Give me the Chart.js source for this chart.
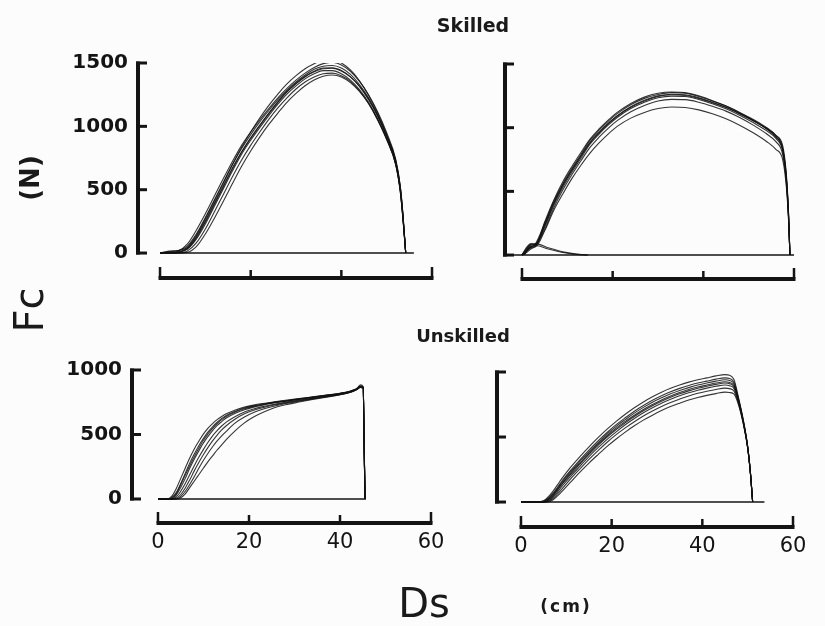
<!DOCTYPE html>
<html>
<head>
<meta charset="utf-8">
<script src="https://cdn.jsdelivr.net/npm/chart.js@4.4.1/dist/chart.umd.min.js"></script>
<style>
  html, body { margin: 0; padding: 0; background: #fcfcfc; }
  #page { position: relative; width: 825px; height: 626px; overflow: hidden; font-family: "DejaVu Sans", sans-serif; color: #1a1a1a; }
  #page canvas { position: absolute; left: 0; top: 0; }
  .lbl { position: absolute; transform: translate(-50%, -50%); white-space: nowrap; }
  .rot { transform: translate(-50%, -50%) rotate(-90deg); }
</style>
</head>
<body>
<div id="page">
  <canvas id="skilledA" width="825" height="626"></canvas>
  <canvas id="skilledB" width="825" height="626"></canvas>
  <canvas id="unskilledA" width="825" height="626"></canvas>
  <canvas id="unskilledB" width="825" height="626"></canvas>
  <div class="lbl" style="left:473px; top:25px; font-weight:bold; font-size:19px;">Skilled</div>
  <div class="lbl" style="left:463px; top:335px; font-weight:bold; font-size:18px;">Unskilled</div>
  <div class="lbl rot" style="left:30px; top:178px; font-weight:bold; font-size:26px;">(N)</div>
  <div class="lbl rot" style="left:29px; top:310px; font-size:40px;">Fc</div>
  <div class="lbl" style="left:424px; top:603px; font-size:40px;">Ds</div>
  <div class="lbl" style="left:566px; top:606px; font-weight:bold; font-size:17px; letter-spacing:2px;">(cm)</div>
</div>
<script>
// tick values
const xTicks = [0, 20, 40, 60];
const skilledYTicks = [0, 500, 1000, 1500];
const unskilledYTicks = [0, 500, 1000];

// skilled, left panel: distance (cm) and force (N) per trial
const tlDist = [0, 2, 4, 6, 8, 10, 12, 14, 16, 18, 20, 22, 24, 26, 28, 30, 32, 34, 36, 38, 40, 42, 44, 46, 48, 50, 52, 53, 53.6, 54.2];
const tlForce = [
  [0, 5, 15, 70, 180, 310, 450, 590, 725, 850, 955, 1050, 1140, 1225, 1300, 1365, 1420, 1465, 1495, 1505, 1485, 1435, 1355, 1250, 1115, 950, 740, 530, 300, 0],
  [0, 10, 20, 55, 150, 280, 420, 560, 700, 825, 935, 1035, 1125, 1210, 1285, 1350, 1405, 1450, 1475, 1480, 1460, 1410, 1330, 1225, 1090, 925, 720, 510, 285, 0],
  [0, 0, 5, 40, 130, 255, 395, 535, 675, 800, 910, 1010, 1105, 1195, 1275, 1340, 1395, 1435, 1460, 1462, 1440, 1390, 1315, 1210, 1080, 915, 710, 500, 280, 0],
  [0, 0, 5, 30, 110, 230, 370, 510, 650, 780, 890, 990, 1085, 1175, 1255, 1320, 1375, 1415, 1440, 1440, 1415, 1365, 1290, 1190, 1060, 900, 700, 490, 270, 0],
  [0, 0, 0, 15, 80, 190, 325, 465, 605, 735, 850, 955, 1055, 1145, 1225, 1295, 1350, 1390, 1415, 1420, 1400, 1355, 1280, 1180, 1050, 895, 695, 485, 265, 0],
  [0, 0, 0, 5, 50, 150, 275, 410, 550, 685, 805, 915, 1015, 1105, 1190, 1260, 1320, 1365, 1395, 1405, 1390, 1345, 1275, 1180, 1055, 900, 700, 490, 270, 0],
  [0, 15, 20, 45, 140, 270, 410, 555, 700, 835, 955, 1065, 1165, 1255, 1335, 1400, 1455, 1495, 1520, 1525, 1500, 1445, 1360, 1245, 1105, 935, 725, 520, 295, 0],
  [0, 5, 10, 35, 120, 245, 385, 525, 665, 795, 905, 1005, 1100, 1190, 1270, 1335, 1390, 1430, 1455, 1458, 1437, 1390, 1318, 1218, 1090, 930, 730, 520, 295, 0]
];
const tlBase = [0, 56];

// skilled, right panel
const trDist = [0, 1, 2, 3, 5, 7, 9, 11, 13, 15, 17, 19, 21, 24, 27, 30, 33, 36, 39, 42, 45, 48, 51, 54, 56, 57.5, 58.3, 58.8, 59.1];
const trForce = [
  [0, 30, 60, 90, 250, 420, 560, 680, 790, 900, 980, 1050, 1110, 1180, 1230, 1260, 1275, 1270, 1245, 1210, 1170, 1120, 1065, 1000, 940, 840, 620, 320, 0],
  [0, 50, 80, 85, 240, 410, 550, 670, 780, 885, 965, 1035, 1095, 1165, 1215, 1250, 1262, 1258, 1235, 1200, 1160, 1110, 1055, 990, 930, 830, 610, 310, 0],
  [0, 40, 70, 75, 220, 390, 530, 650, 760, 870, 950, 1020, 1080, 1150, 1200, 1235, 1248, 1245, 1222, 1188, 1148, 1098, 1040, 975, 915, 815, 590, 300, 0],
  [0, 20, 50, 70, 200, 370, 510, 630, 740, 845, 925, 995, 1055, 1125, 1175, 1210, 1222, 1220, 1200, 1168, 1130, 1080, 1020, 950, 890, 790, 570, 290, 0],
  [0, 30, 60, 65, 190, 350, 480, 600, 705, 800, 880, 950, 1010, 1075, 1120, 1150, 1162, 1158, 1140, 1110, 1070, 1020, 960, 890, 830, 750, 540, 270, 0],
  [0, 60, 90, 80, 260, 430, 575, 695, 805, 910, 990, 1060, 1120, 1190, 1240, 1270, 1280, 1275, 1250, 1212, 1170, 1118, 1060, 990, 925, 830, 600, 300, 0],
  [0, 35, 65, 80, 230, 400, 545, 665, 775, 880, 960, 1030, 1090, 1160, 1210, 1245, 1258, 1253, 1230, 1195, 1158, 1110, 1055, 995, 940, 860, 640, 330, 0]
];
// return trace near the start of the right skilled panel
const trBackDist = [0.5, 1.5, 3, 6, 9, 12, 14.5];
const trBackForce = [
  [0, 70, 90, 55, 25, 8, 0],
  [0, 55, 75, 45, 20, 5, 0]
];
const trBase = [-2, 60];

// unskilled, left panel
const blDist = [0, 2, 3, 4, 5, 6, 7, 8, 9, 10, 11, 12, 13, 14, 15, 17, 19, 21, 23, 25, 28, 31, 34, 37, 40, 42, 43.5, 44.5, 45.1, 45.3, 45.5];
const blForce = [
  [0, 0, 20, 80, 160, 240, 320, 390, 450, 505, 550, 585, 615, 640, 660, 690, 712, 728, 740, 750, 765, 778, 792, 806, 820, 834, 852, 875, 868, 460, 0],
  [0, 0, 10, 50, 120, 200, 280, 350, 415, 470, 520, 560, 595, 625, 648, 680, 705, 722, 736, 748, 762, 776, 790, 804, 818, 832, 850, 872, 865, 450, 0],
  [0, 0, 0, 30, 90, 160, 240, 310, 375, 435, 485, 530, 570, 600, 628, 665, 692, 712, 728, 741, 757, 772, 787, 801, 816, 830, 848, 868, 862, 440, 0],
  [0, 0, 0, 15, 60, 120, 190, 260, 325, 385, 440, 490, 530, 566, 596, 640, 675, 698, 716, 731, 750, 766, 782, 797, 812, 827, 846, 866, 860, 430, 0],
  [0, 0, 0, 5, 35, 85, 150, 220, 285, 345, 400, 450, 495, 535, 568, 620, 660, 688, 708, 725, 745, 762, 779, 795, 810, 825, 845, 865, 858, 420, 0],
  [0, 0, 0, 0, 20, 60, 115, 175, 240, 300, 355, 405, 450, 490, 525, 590, 635, 670, 695, 715, 740, 758, 776, 792, 808, 824, 844, 864, 857, 410, 0],
  [0, 0, 0, 0, 10, 40, 90, 140, 190, 240, 290, 335, 380, 420, 460, 530, 590, 635, 670, 700, 730, 752, 772, 790, 808, 825, 847, 885, 870, 440, 0],
  [0, 0, 5, 40, 110, 185, 260, 330, 395, 455, 505, 548, 585, 615, 640, 675, 700, 718, 732, 745, 760, 774, 789, 803, 818, 833, 851, 873, 866, 455, 0]
];
const blBase = [0, 45.7];

// unskilled, right panel
const brDist = [0, 3, 5, 6, 7, 8, 9, 11, 13, 15, 17, 19, 21, 23, 25, 27, 29, 31, 33, 35, 37, 39, 41, 43, 45, 46, 47, 48, 49, 50, 50.6, 51.1];
const brForce = [
  [0, 0, 10, 40, 80, 130, 180, 270, 350, 425, 495, 560, 620, 675, 725, 770, 810, 845, 875, 900, 922, 940, 955, 970, 980, 975, 940, 800, 640, 430, 230, 0],
  [0, 0, 5, 30, 65, 110, 160, 245, 325, 400, 470, 535, 595, 648, 698, 742, 782, 817, 848, 874, 896, 915, 930, 945, 955, 950, 920, 790, 630, 425, 228, 0],
  [0, 0, 0, 20, 50, 95, 140, 225, 300, 375, 445, 510, 568, 620, 668, 712, 750, 785, 815, 842, 865, 884, 900, 915, 925, 920, 895, 780, 625, 422, 226, 0],
  [0, 0, 0, 10, 35, 75, 120, 200, 275, 350, 418, 482, 540, 594, 642, 686, 725, 760, 790, 817, 840, 860, 876, 890, 900, 895, 872, 765, 618, 420, 225, 0],
  [0, 0, 0, 5, 25, 60, 100, 180, 255, 328, 396, 460, 518, 570, 618, 662, 700, 735, 766, 792, 816, 836, 852, 866, 876, 872, 852, 755, 612, 418, 224, 0],
  [0, 0, 0, 0, 15, 45, 80, 155, 230, 300, 365, 428, 485, 538, 586, 630, 668, 703, 734, 760, 784, 804, 820, 834, 845, 842, 830, 745, 606, 415, 222, 0],
  [0, 0, 0, 15, 45, 88, 135, 215, 292, 366, 436, 500, 558, 610, 658, 702, 741, 776, 806, 832, 855, 875, 891, 905, 915, 910, 885, 775, 622, 421, 226, 0],
  [0, 0, 5, 25, 58, 102, 150, 235, 312, 386, 456, 522, 582, 634, 684, 728, 768, 802, 832, 858, 880, 900, 916, 930, 940, 935, 908, 785, 628, 424, 228, 0]
];
const brBase = [0, 53.7];

const INK = "#141414";
const Y_AXIS_W = 80;

// draws the bracket-style y axis and the detached x axis
const bracketAxes = {
  id: "bracketAxes",
  afterDraw(chart, args, opts) {
    const { ctx, chartArea, scales } = chart;
    const x = scales.x, y = scales.y;
    const left = chartArea.left, bottom = chartArea.bottom;
    ctx.save();
    ctx.strokeStyle = INK;
    ctx.lineCap = "butt";
    // y bracket
    const yTop = y.getPixelForValue(opts.yTicks[opts.yTicks.length - 1]);
    const yZero = y.getPixelForValue(0);
    ctx.lineWidth = 4;
    ctx.beginPath();
    ctx.moveTo(left, yTop - 1.5);
    ctx.lineTo(left, yZero + 1.5);
    ctx.stroke();
    ctx.lineWidth = 3;
    opts.yTicks.forEach(v => {
      const py = y.getPixelForValue(v);
      ctx.beginPath();
      ctx.moveTo(left - 2, py);
      ctx.lineTo(left + 9, py);
      ctx.stroke();
    });
    // x axis, ticks pointing up
    const x0 = x.getPixelForValue(opts.xTicks[0]);
    const x1 = x.getPixelForValue(opts.xTicks[opts.xTicks.length - 1]);
    ctx.lineWidth = 4;
    ctx.beginPath();
    ctx.moveTo(x0 - 1.5, bottom);
    ctx.lineTo(x1 + 1.5, bottom);
    ctx.stroke();
    ctx.lineWidth = 2.5;
    opts.xTicks.forEach((v, i) => {
      const px = x.getPixelForValue(v);
      const h = (i === 0 || i === opts.xTicks.length - 1) ? 11 : 8;
      ctx.beginPath();
      ctx.moveTo(px, bottom);
      ctx.lineTo(px, bottom - h);
      ctx.stroke();
    });
    ctx.restore();
  }
};

function trialSets(dist, forces) {
  return forces.map(f => ({
    data: dist.map((d, i) => ({ x: d, y: f[i] })),
    borderColor: "rgba(18,18,18,0.85)",
    borderWidth: 1.1,
    pointRadius: 0,
    cubicInterpolationMode: "monotone",
    fill: false
  }));
}

function baseSet(ext) {
  return {
    data: ext.map(d => ({ x: d, y: 0 })),
    borderColor: INK,
    borderWidth: 1.6,
    pointRadius: 0
  };
}

function makePanel(id, cfg) {
  new Chart(document.getElementById(id), {
    type: "line",
    data: { datasets: cfg.datasets },
    options: {
      responsive: false,
      animation: false,
      events: [],
      layout: { padding: { left: cfg.left - Y_AXIS_W, top: cfg.top, right: 825 - cfg.right, bottom: 626 - cfg.bottom - 40 } },
      plugins: {
        legend: { display: false },
        tooltip: { enabled: false },
        bracketAxes: { xTicks: xTicks, yTicks: cfg.yTicks }
      },
      scales: {
        x: {
          type: "linear",
          min: cfg.xMin,
          max: 60,
          grid: { display: false, drawTicks: false },
          border: { display: false },
          afterBuildTicks: s => { s.ticks = xTicks.map(v => ({ value: v })); },
          afterFit: s => { s.height = 40; s.paddingLeft = 0; s.paddingRight = 0; },
          ticks: {
            display: cfg.showX,
            padding: 7,
            color: INK,
            maxRotation: 0,
            font: { family: "DejaVu Sans", size: 21 },
            callback: v => String(v)
          }
        },
        y: {
          type: "linear",
          min: cfg.yMin,
          max: cfg.yMax,
          grid: { display: false, drawTicks: false },
          border: { display: false },
          afterBuildTicks: s => { s.ticks = cfg.yTicks.map(v => ({ value: v })); },
          afterFit: s => { s.width = Y_AXIS_W; s.paddingTop = 0; s.paddingBottom = 0; },
          ticks: {
            display: cfg.showY,
            padding: 10,
            color: INK,
            font: { family: "DejaVu Sans", size: 20, weight: "bold" },
            callback: v => String(v)
          }
        }
      }
    },
    plugins: [bracketAxes]
  });
}

makePanel("skilledA", {
  datasets: trialSets(tlDist, tlForce).concat([baseSet(tlBase)]),
  yTicks: skilledYTicks, yMin: -197, yMax: 1500, xMin: -4.86,
  showX: false, showY: true,
  left: 138, top: 63, right: 432, bottom: 278
});

makePanel("skilledB", {
  datasets: trialSets(trDist, trForce).concat(trialSets(trBackDist, trBackForce), [baseSet(trBase)]),
  yTicks: skilledYTicks, yMin: -188, yMax: 1500, xMin: -3.75,
  showX: false, showY: false,
  left: 505, top: 64, right: 794, bottom: 279
});

makePanel("unskilledA", {
  datasets: trialSets(blDist, blForce).concat([baseSet(blBase)]),
  yTicks: unskilledYTicks, yMin: -186, yMax: 1000, xMin: -5.71,
  showX: true, showY: true,
  left: 132, top: 370, right: 431, bottom: 523
});

makePanel("unskilledB", {
  datasets: trialSets(brDist, brForce).concat([baseSet(brBase)]),
  yTicks: unskilledYTicks, yMin: -192, yMax: 1000, xMin: -5.29,
  showX: true, showY: false,
  left: 497, top: 372, right: 793, bottom: 527
});
</script>
</body>
</html>
